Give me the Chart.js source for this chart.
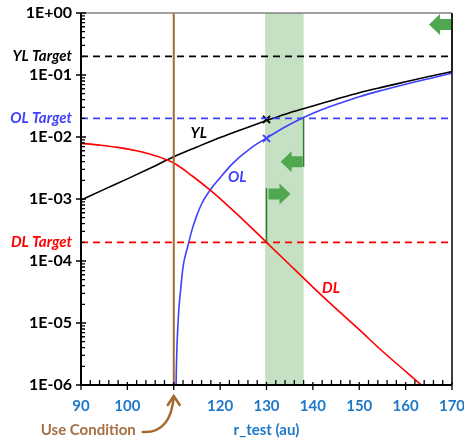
<!DOCTYPE html>
<html>
<head>
<meta charset="utf-8">
<script src="https://cdn.jsdelivr.net/npm/chart.js@4/dist/chart.umd.min.js"></script>
<style>
  body { margin: 0; background: #fff; }
</style>
</head>
<body>
<canvas id="chart" width="464" height="440"></canvas>
<script>
// yield loss curve
const ylX = [90, 95, 100, 105, 110, 115, 120, 125, 130, 135, 140, 145, 150, 155, 160, 165, 170];
const ylY = [9.6e-4, 1.43e-3, 2.11e-3, 3.16e-3, 4.8e-3, 6.9e-3, 9.8e-3, 0.0135, 0.0184, 0.0247,
             0.0316, 0.0407, 0.0519, 0.0638, 0.0776, 0.0944, 0.1135];
// OL curve
const olX = [110.4, 110.5, 111, 111.5, 112, 113, 114, 115, 116, 118, 120, 122, 124, 126, 128, 130,
             134, 138, 142, 146, 150, 155, 160, 165, 170];
const olY = [2e-7, 1e-6, 1.26e-5, 3.5e-5, 8e-5, 1.7e-4, 3.3e-4, 5.5e-4, 8.3e-4, 1.45e-3, 2.2e-3,
             3.3e-3, 4.6e-3, 6.1e-3, 7.8e-3, 9.6e-3, 0.0145, 0.0206, 0.0277, 0.0355, 0.0447,
             0.0569, 0.0711, 0.0871, 0.107];
// DL curve
const dlX = [90, 94, 98, 102, 106, 110, 114, 118, 122, 126, 130, 135, 140, 145, 150, 155, 160, 165];
const dlY = [7.9e-3, 7.4e-3, 6.8e-3, 6.0e-3, 5.0e-3, 3.8e-3, 2.35e-3, 1.36e-3, 7.4e-4, 3.9e-4,
             2.0e-4, 8.7e-5, 3.8e-5, 1.7e-5, 7.8e-6, 3.5e-6, 1.66e-6, 7.8e-7];

const decades = [1e-6, 1e-5, 1e-4, 1e-3, 1e-2, 1e-1, 1];
const targets = [0.2, 0.02, 2e-4];
const targetLabels = ['YL Target', 'OL Target', 'DL Target'];
const seriesColors = ['#000000', '#4040FF', '#FF0000'];
const curveNames = ['YL', 'OL', 'DL'];
const curveLabelX = [115.4, 123.7, 143.9];
const curveLabelY = [0.0116, 2.26e-3, 3.67e-5];

const useCondition = 110;
const testWindow = [129.7, 138];
const markerX = 130;
const markerY = [0.0192, 0.0095];

// green arrows: line at x from lo to hi, arrow at arrowY, dir -1 = left
const arrowX = [170, 138, 130];
const arrowLo = [0.113, 0.02, 2e-4];
const arrowHi = [0.97, 3.3e-3, 1.5e-3];
const arrowY = [0.65, 4.0e-3, 1.2e-3];
const arrowDir = [-1, -1, 1];

const FONT = 'Lato, "Open Sans", sans-serif';
const tickBlue = '#1E78C8';
const brown = '#A5692E';

const pts = (xs, ys) => xs.map((v, i) => ({ x: v, y: ys[i] }));

function fmtPow(v) {
  const e = Math.round(Math.log10(v));
  return '1E' + (e < 0 ? '-' : '+') + String(Math.abs(e)).padStart(2, '0');
}

const overlay = {
  id: 'overlay',
  beforeDatasetsDraw(chart) {
    const { ctx, chartArea: a, scales: { x } } = chart;
    const x0 = x.getPixelForValue(testWindow[0]);
    const x1 = x.getPixelForValue(testWindow[1]);
    ctx.save();
    ctx.fillStyle = '#C6E0C4';
    ctx.fillRect(x0, a.top, x1 - x0, a.bottom - a.top);
    ctx.restore();
  },
  afterDatasetsDraw(chart) {
    const { ctx, chartArea: a, scales: { x, y } } = chart;
    ctx.save();

    // green lines + block arrows
    arrowX.forEach((xv, i) => {
      const px = x.getPixelForValue(xv);
      ctx.strokeStyle = '#2E7D2E';
      ctx.lineWidth = 1.5;
      ctx.beginPath();
      ctx.moveTo(px, y.getPixelForValue(arrowLo[i]));
      ctx.lineTo(px, y.getPixelForValue(arrowHi[i]));
      ctx.stroke();
      const py = y.getPixelForValue(arrowY[i]);
      const d = arrowDir[i];
      const back = px + (d < 0 ? -1 : 2);
      const neck = back + d * 11;
      const tip = back + d * 22;
      ctx.fillStyle = '#4FA84F';
      ctx.beginPath();
      ctx.moveTo(back, py - 5.5);
      ctx.lineTo(neck, py - 5.5);
      ctx.lineTo(neck, py - 10.5);
      ctx.lineTo(tip, py);
      ctx.lineTo(neck, py + 10.5);
      ctx.lineTo(neck, py + 5.5);
      ctx.lineTo(back, py + 5.5);
      ctx.closePath();
      ctx.fill();
    });

    // frame
    ctx.strokeStyle = '#808080';
    ctx.lineWidth = 1.5;
    ctx.beginPath();
    ctx.moveTo(a.left, a.top);
    ctx.lineTo(a.right, a.top);
    ctx.stroke();
    ctx.strokeStyle = '#000';
    ctx.beginPath();
    ctx.moveTo(a.right, a.top);
    ctx.lineTo(a.right, a.bottom);
    ctx.stroke();
    ctx.lineWidth = 2;
    ctx.beginPath();
    ctx.moveTo(a.left, a.top);
    ctx.lineTo(a.left, a.bottom);
    ctx.lineTo(a.right, a.bottom);
    ctx.stroke();

    // y ticks
    ctx.lineWidth = 1.3;
    ctx.beginPath();
    decades.forEach((dv, i) => {
      const py = y.getPixelForValue(dv);
      ctx.moveTo(a.left - 5, py);
      ctx.lineTo(a.left + 5, py);
      if (i < decades.length - 1) {
        for (let k = 2; k <= 9; k++) {
          const pm = y.getPixelForValue(dv * k);
          ctx.moveTo(a.left, pm);
          ctx.lineTo(a.left + 4, pm);
        }
      }
    });
    // x ticks
    for (let v = 90; v <= 170; v += 2) {
      const px = x.getPixelForValue(v);
      if (v % 10 === 0) {
        ctx.moveTo(px, a.bottom - 3);
        ctx.lineTo(px, a.bottom + 5);
      } else {
        ctx.moveTo(px, a.bottom - 5);
        ctx.lineTo(px, a.bottom);
      }
    }
    ctx.stroke();

    // curve labels
    ctx.font = 'italic bold 15px ' + FONT;
    ctx.textAlign = 'center';
    ctx.textBaseline = 'middle';
    curveNames.forEach((n, i) => {
      ctx.fillStyle = seriesColors[i];
      ctx.fillText(n, x.getPixelForValue(curveLabelX[i]), y.getPixelForValue(curveLabelY[i]));
    });

    // use condition annotation
    const ux = x.getPixelForValue(useCondition);
    ctx.fillStyle = '#A47044';
    ctx.font = 'bold 15px ' + FONT;
    ctx.textAlign = 'right';
    ctx.fillText('Use Condition', ux - 38, 430);
    ctx.strokeStyle = brown;
    ctx.lineWidth = 2.5;
    ctx.lineCap = 'round';
    ctx.beginPath();
    ctx.moveTo(ux - 31, 432);
    ctx.bezierCurveTo(ux - 12, 433, ux - 2, 420, ux, 397);
    ctx.moveTo(ux - 6, 405);
    ctx.lineTo(ux, 396);
    ctx.lineTo(ux + 6, 405);
    ctx.stroke();

    ctx.restore();
  }
};

const lineDs = (xs, ys, color) => ({
  data: pts(xs, ys), showLine: true, borderColor: color, borderWidth: 1.6,
  pointRadius: 0, cubicInterpolationMode: 'monotone'
});
const flatDs = (v, color) => ({
  data: [{ x: 90, y: v }, { x: 170, y: v }], showLine: true, borderColor: color,
  borderWidth: 1.6, borderDash: [7, 5], pointRadius: 0
});

new Chart(document.getElementById('chart'), {
  type: 'scatter',
  data: {
    datasets: [
      ...targets.map((t, i) => flatDs(t, seriesColors[i])),
      { data: [{ x: useCondition, y: 1e-6 }, { x: useCondition, y: 1 }], showLine: true,
        borderColor: brown, borderWidth: 2, pointRadius: 0 },
      lineDs(dlX, dlY, seriesColors[2]),
      lineDs(olX, olY, seriesColors[1]),
      lineDs(ylX, ylY, seriesColors[0]),
      { data: [{ x: markerX, y: markerY[0] }], pointStyle: 'crossRot', pointRadius: 5,
        borderColor: '#000', borderWidth: 2 },
      { data: [{ x: markerX, y: markerY[1] }], pointStyle: 'crossRot', pointRadius: 5,
        borderColor: '#4040FF', borderWidth: 2 }
    ]
  },
  options: {
    responsive: false,
    animation: false,
    layout: { padding: { top: 13, right: 12, left: 0, bottom: 0 } },
    plugins: { legend: { display: false }, tooltip: { enabled: false } },
    scales: {
      x: {
        type: 'linear', min: 90, max: 170,
        grid: { display: false }, border: { display: false },
        ticks: { stepSize: 10, color: tickBlue, padding: 4,
                 callback: v => (v === useCondition ? '' : v),
                 font: { family: FONT, size: 15, weight: 'bold' } },
        title: { display: true, text: 'r_test (au)', color: tickBlue,
                 font: { family: FONT, size: 15, weight: 'bold' }, padding: { top: 2, bottom: 1 } },
        afterFit: s => { s.height = 55; s.paddingLeft = 0; s.paddingRight = 0; }
      },
      y: {
        type: 'logarithmic', min: 1e-6, max: 1,
        grid: { display: false }, border: { display: false },
        afterBuildTicks: s => {
          s.ticks = decades.concat(targets).sort((p, q) => p - q).map(v => ({ value: v }));
        },
        ticks: {
          autoSkip: false, padding: 1,
          callback: v => {
            const ti = targets.indexOf(v);
            return ti >= 0 ? targetLabels[ti] : fmtPow(v);
          },
          color: c => {
            const ti = c.tick ? targets.indexOf(c.tick.value) : -1;
            return ti >= 0 ? seriesColors[ti] : '#000';
          },
          font: c => {
            const isT = c.tick && targets.indexOf(c.tick.value) >= 0;
            return { family: FONT, size: isT ? 15 : 16, weight: 'bold', style: isT ? 'italic' : 'normal' };
          }
        },
        afterFit: s => { s.width = 81; s.paddingTop = 0; s.paddingBottom = 0; }
      }
    }
  },
  plugins: [overlay]
});
</script>
</body>
</html>
